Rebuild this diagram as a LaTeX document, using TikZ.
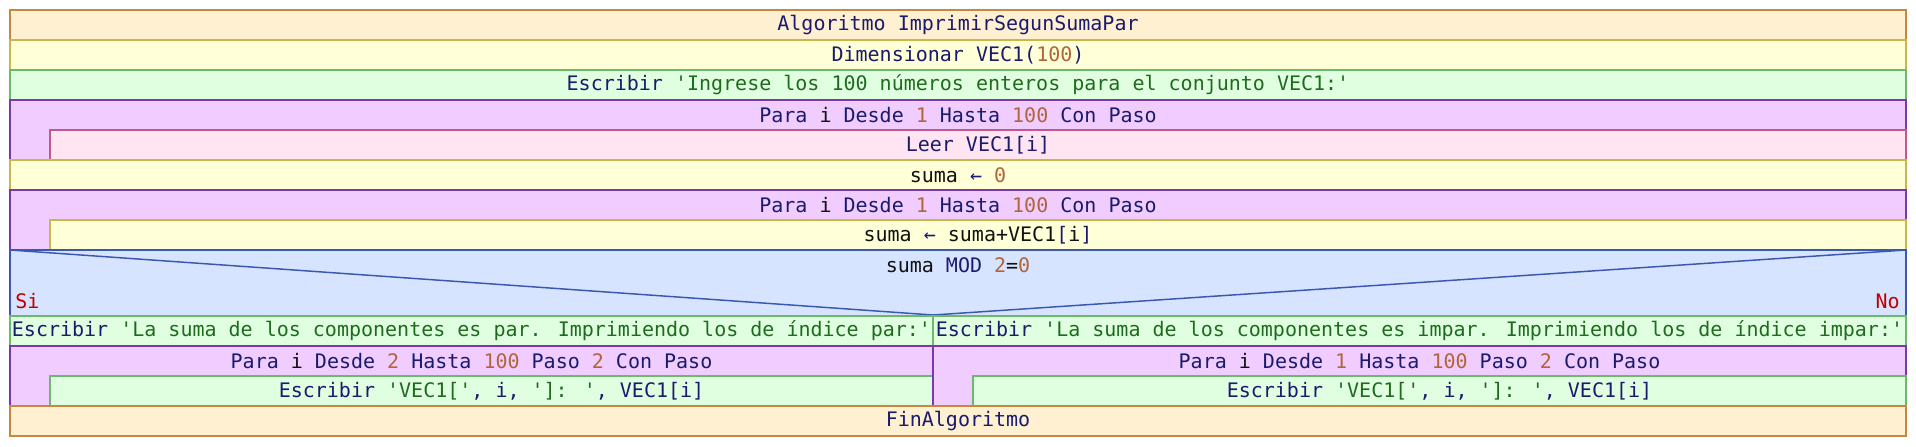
\documentclass[tikz,border=0pt]{standalone}
\usepackage{fontspec}
\setmonofont{DejaVu Sans Mono}
\newfontfamily\arrfont{DejaVu Sans Mono}
\usetikzlibrary{fit}
\definecolor{kwc}{HTML}{1A1A6E}
\definecolor{numc}{HTML}{B0653A}
\definecolor{strc}{HTML}{1E6B1E}
\definecolor{varc}{HTML}{111111}
\definecolor{redc}{HTML}{C00000}
\definecolor{algF}{HTML}{FFF0D2}
\definecolor{algD}{HTML}{C8883C}
\definecolor{asgF}{HTML}{FFFFD8}
\definecolor{asgD}{HTML}{C8B84C}
\definecolor{escF}{HTML}{E0FFE0}
\definecolor{escD}{HTML}{6CB86C}
\definecolor{forF}{HTML}{F0CCFF}
\definecolor{forD}{HTML}{7A38A8}
\definecolor{leeF}{HTML}{FFE4F2}
\definecolor{leeD}{HTML}{C05A8A}
\definecolor{ifF}{HTML}{D6E4FF}
\definecolor{ifD}{HTML}{3A58B0}
\newcommand\pkw[1]{\textcolor{kwc}{#1}}
\newcommand\pnum[1]{\textcolor{numc}{#1}}
\newcommand\pstr[1]{\textcolor{strc}{#1}}
\newcommand\pvar[1]{\textcolor{varc}{#1}}
\newcommand\parr{\textcolor{kwc}{\arrfont ←}}
\begin{document}
\begin{tikzpicture}[x=0.75pt,y=-0.75pt,
  blk/.style={inner sep=0pt, outer sep=0pt, line width=1.1pt},
  txt/.style={inner sep=0pt, font=\ttfamily\fontsize{15}{18}\selectfont},
  algbox/.style={blk, fill=algF, draw=algD},
  asgbox/.style={blk, fill=asgF, draw=asgD},
  escbox/.style={blk, fill=escF, draw=escD},
  forbox/.style={blk, fill=forF, draw=forD},
  leebox/.style={blk, fill=leeF, draw=leeD},
  ifbox/.style={blk, fill=ifF, draw=ifD},
  diag/.style={draw=ifD, line width=1.1pt},
  sino/.style={txt, text=redc}]
\useasboundingbox (0,0) rectangle (1916,446);
% header
\node[algbox, fit={(10,10) (1906,40)}] (alg) {};
\node[txt] (algT) at (alg.center) {\pkw{Algoritmo ImprimirSegunSumaPar}};
\node[asgbox, fit={(10,40) (1906,70)}] (dim) {};
\node[txt] (dimT) at (dim.center) {\pkw{Dimensionar VEC1(}\pnum{100}\pkw{)}};
\node[escbox, fit={(10,70) (1906,100)}] (esc1) {};
\node[txt] (esc1T) at (esc1.center) {\pkw{Escribir} \pstr{'Ingrese los 100 números enteros para el conjunto VEC1:'}};
% first loop
\node[forbox, fit={(10,100) (1906,160)}] (for1) {};
\node[txt] (for1T) at (958,115) {\pkw{Para} \pvar{i} \pkw{Desde} \pnum{1} \pkw{Hasta} \pnum{100} \pkw{Con Paso}};
\node[leebox, fit={(50,130) (1906,160)}] (lee) {};
\node[txt] (leeT) at (lee.center) {\pkw{Leer VEC1[i]}};
% suma <- 0
\node[asgbox, fit={(10,160) (1906,190)}] (s0) {};
\node[txt] (s0T) at (s0.center) {\pvar{suma} \parr{} \pnum{0}};
% second loop
\node[forbox, fit={(10,190) (1906,250)}] (for2) {};
\node[txt] (for2T) at (958,205) {\pkw{Para} \pvar{i} \pkw{Desde} \pnum{1} \pkw{Hasta} \pnum{100} \pkw{Con Paso}};
\node[asgbox, fit={(50,220) (1906,250)}] (acc) {};
\node[txt] (accT) at (acc.center) {\pvar{suma} \parr{} \pvar{suma+VEC1}\pkw{[}\pvar{i}\pkw{]}};
% condition
\node[ifbox, fit={(10,250) (1906,316)}] (cond) {};
\coordinate (apex) at (933,315);
\draw[diag] (cond.north west) -- (apex) -- (cond.north east);
\node[txt] (condT) at (958,265) {\pvar{suma} \pkw{MOD} \pnum{2}\pvar{=}\pnum{0}};
\node[sino, anchor=west] (si) at (15,301) {Si};
\node[sino, anchor=east] (no) at (1900,301) {No};
% branches
\node[escbox, fit={(10,316) (933,346)}] (escL) {};
\node[txt] (escLT) at (escL.center) {\pkw{Escribir} \pstr{'La suma de los componentes es par. Imprimiendo los de índice par:'}};
\node[escbox, fit={(933,316) (1906,346)}] (escR) {};
\node[txt] (escRT) at (escR.center) {\pkw{Escribir} \pstr{'La suma de los componentes es impar. Imprimiendo los de índice impar:'}};
\node[forbox, fit={(10,346) (933,406)}] (forL) {};
\node[txt] (forLT) at (471.5,361) {\pkw{Para} \pvar{i} \pkw{Desde} \pnum{2} \pkw{Hasta} \pnum{100} \pkw{Paso} \pnum{2} \pkw{Con Paso}};
\node[escbox, fit={(50,376) (933,406)}] (prL) {};
\node[txt] (prLT) at (prL.center) {\pkw{Escribir} \pstr{'VEC1['}\pkw{, i,} \pstr{']: '}\pkw{, VEC1[i]}};
\node[forbox, fit={(933,346) (1906,406)}] (forR) {};
\node[txt] (forRT) at (1419.5,361) {\pkw{Para} \pvar{i} \pkw{Desde} \pnum{1} \pkw{Hasta} \pnum{100} \pkw{Paso} \pnum{2} \pkw{Con Paso}};
\node[escbox, fit={(973,376) (1906,406)}] (prR) {};
\node[txt] (prRT) at (prR.center) {\pkw{Escribir} \pstr{'VEC1['}\pkw{, i,} \pstr{']: '}\pkw{, VEC1[i]}};
% end
\node[algbox, fit={(10,406) (1906,436)}] (fin) {};
\node[txt] (finT) at (fin.center) {\pkw{FinAlgoritmo}};
\end{tikzpicture}
\end{document}
